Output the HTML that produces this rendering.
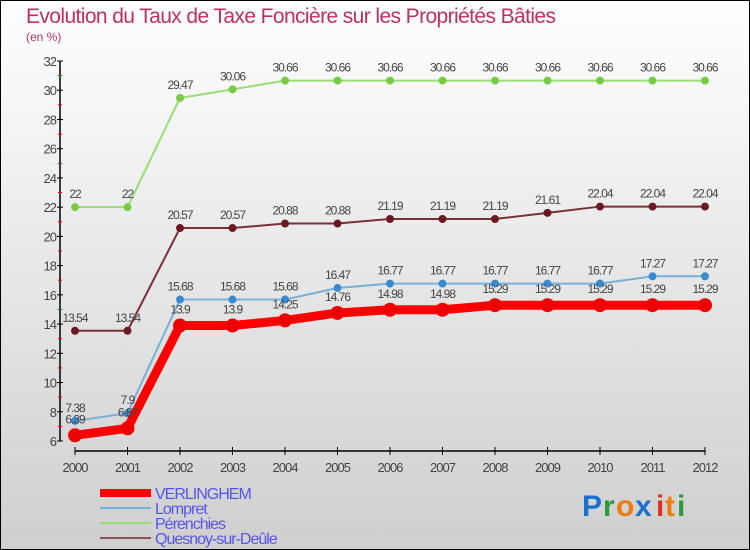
<!DOCTYPE html>
<html><head><meta charset="utf-8"><style>
body{margin:0;width:750px;height:550px;overflow:hidden}
svg{display:block;font-family:"Liberation Sans",sans-serif}
</style></head><body>
<svg width="750" height="550">
<defs><linearGradient id="bg" x1="0" y1="0" x2="0" y2="1"><stop offset="0" stop-color="#ffffff"/><stop offset="1" stop-color="#cfcfcf"/></linearGradient></defs>
<rect x="0.5" y="0.5" width="749" height="549" fill="url(#bg)" stroke="#000"/>
<text x="26" y="23" font-size="21" fill="#c0305e" letter-spacing="-0.6">Evolution du Taux de Taxe Foncière sur les Propriétés Bâties</text>
<text x="26" y="41" font-size="12" fill="#c0305e">(en %)</text>
<g id="axes"></g><g id="series"></g><g id="legend"></g>
<g font-size="30" font-weight="bold" font-family="Liberation Sans,sans-serif">
<text x="582" y="516" fill="#1a6fd0">P</text><text x="603" y="516" fill="#2a9a3a">r</text><text x="616" y="516" fill="#f07a10">o</text><text x="635" y="516" fill="#1a6fd0">x</text><text x="656" y="516" fill="#e03020">i</text><text x="665" y="516" fill="#f07a10">t</text><text x="677" y="516" fill="#2a9a3a">i</text>
</g>
</svg>
<script>
const years=[2000,2001,2002,2003,2004,2005,2006,2007,2008,2009,2010,2011,2012];
const verlinghem=[6.39,6.87,13.9,13.9,14.25,14.76,14.98,14.98,15.29,15.29,15.29,15.29,15.29];
const lompret=[7.38,7.9,15.68,15.68,15.68,16.47,16.77,16.77,16.77,16.77,16.77,17.27,17.27];
const perenchies=[22,22,29.47,30.06,30.66,30.66,30.66,30.66,30.66,30.66,30.66,30.66,30.66];
const quesnoy=[13.54,13.54,20.57,20.57,20.88,20.88,21.19,21.19,21.19,21.61,22.04,22.04,22.04];
const yTicks=[6,8,10,12,14,16,18,20,22,24,26,28,30,32];
const NS='http://www.w3.org/2000/svg';
const xs=i=>75+i*52.5;
const ys=v=>441-(v-6)*380/26;
function mk(tag,at,parent){const e=document.createElementNS(NS,tag);for(const k in at)e.setAttribute(k,at[k]);parent.appendChild(e);return e;}
const ax=document.getElementById('axes');
let yl=mk('line',{x1:60,y1:ys(32),x2:60,y2:ys(6),stroke:'#000','stroke-width':1.5},ax);


yTicks.forEach(t=>{
 mk('line',{x1:57,x2:63,y1:ys(t),y2:ys(t),stroke:'#000'},ax);
 if(t<32)mk('line',{x1:58,x2:62,y1:ys(t+1),y2:ys(t+1),stroke:'#e00'},ax);
 let tx=mk('text',{x:56,y:ys(t)+5,'font-size':13,fill:'#444','text-anchor':'end','letter-spacing':'-1'},ax);
 tx.textContent=t;
 
 
});
let xl=mk('line',{x1:xs(0),y1:451,x2:xs(12),y2:451,stroke:'#000','stroke-width':1.5},ax);


years.forEach((y,i)=>{
 mk('line',{x1:xs(i),x2:xs(i),y1:447,y2:455,stroke:'#000'},ax);
 let tx=mk('text',{x:xs(i),y:472,'font-size':13,fill:'#444','text-anchor':'middle','letter-spacing':'-1'},ax);
 tx.textContent=y;
 
 
});
const sg=document.getElementById('series');
const defs=[
 {d:perenchies,c:'#99dd77',dot:'#77cc44',w:2,r:4,n:'perenchies'},
 {d:quesnoy,c:'#7a3035',dot:'#6a1a20',w:2,r:4,n:'quesnoy'},
 {d:lompret,c:'#7ab0d8',dot:'#3a8ad0',w:2,r:4,n:'lompret'},
 {d:verlinghem,c:'#ff0000',dot:'#ee0000',w:9,r:7,n:'verlinghem'}];
defs.forEach(s=>{
 const g=mk('g',{},sg);
 
 
 const pl=mk('polyline',{points:s.d.map((v,i)=>xs(i)+','+ys(v)).join(' '),fill:'none',stroke:s.c,'stroke-width':s.w,'stroke-linejoin':'round'},g);
 
 
 s.d.forEach((v,i)=>{
  const p=mk('circle',{cx:xs(i),cy:ys(v),r:s.r,fill:s.dot},g);
  
  
  const t=mk('text',{x:xs(i),y:ys(v)-(s.r+5),'font-size':12,fill:'#444','text-anchor':'middle','letter-spacing':'-1'},g);
  t.textContent=v;
  
  
 });
});
const lg=document.getElementById('legend');
const ent=[['VERLINGHEM','#ff0000',8,493],['Lompret','#7ab0d8',2,508],['Pérenchies','#99dd77',2,523],['Quesnoy-sur-Deûle','#8a5055',2,538]];
ent.forEach(e=>{
 const g=mk('g',{},lg);
 
 
 mk('line',{x1:100,x2:151,y1:e[3],y2:e[3],stroke:e[1],'stroke-width':e[2]},g);
 const t=mk('text',{x:155,y:e[3]+6,'font-size':16,fill:'#5555ee','letter-spacing':'-1'},g);
 t.textContent=e[0];
});
</script>
</body></html>
